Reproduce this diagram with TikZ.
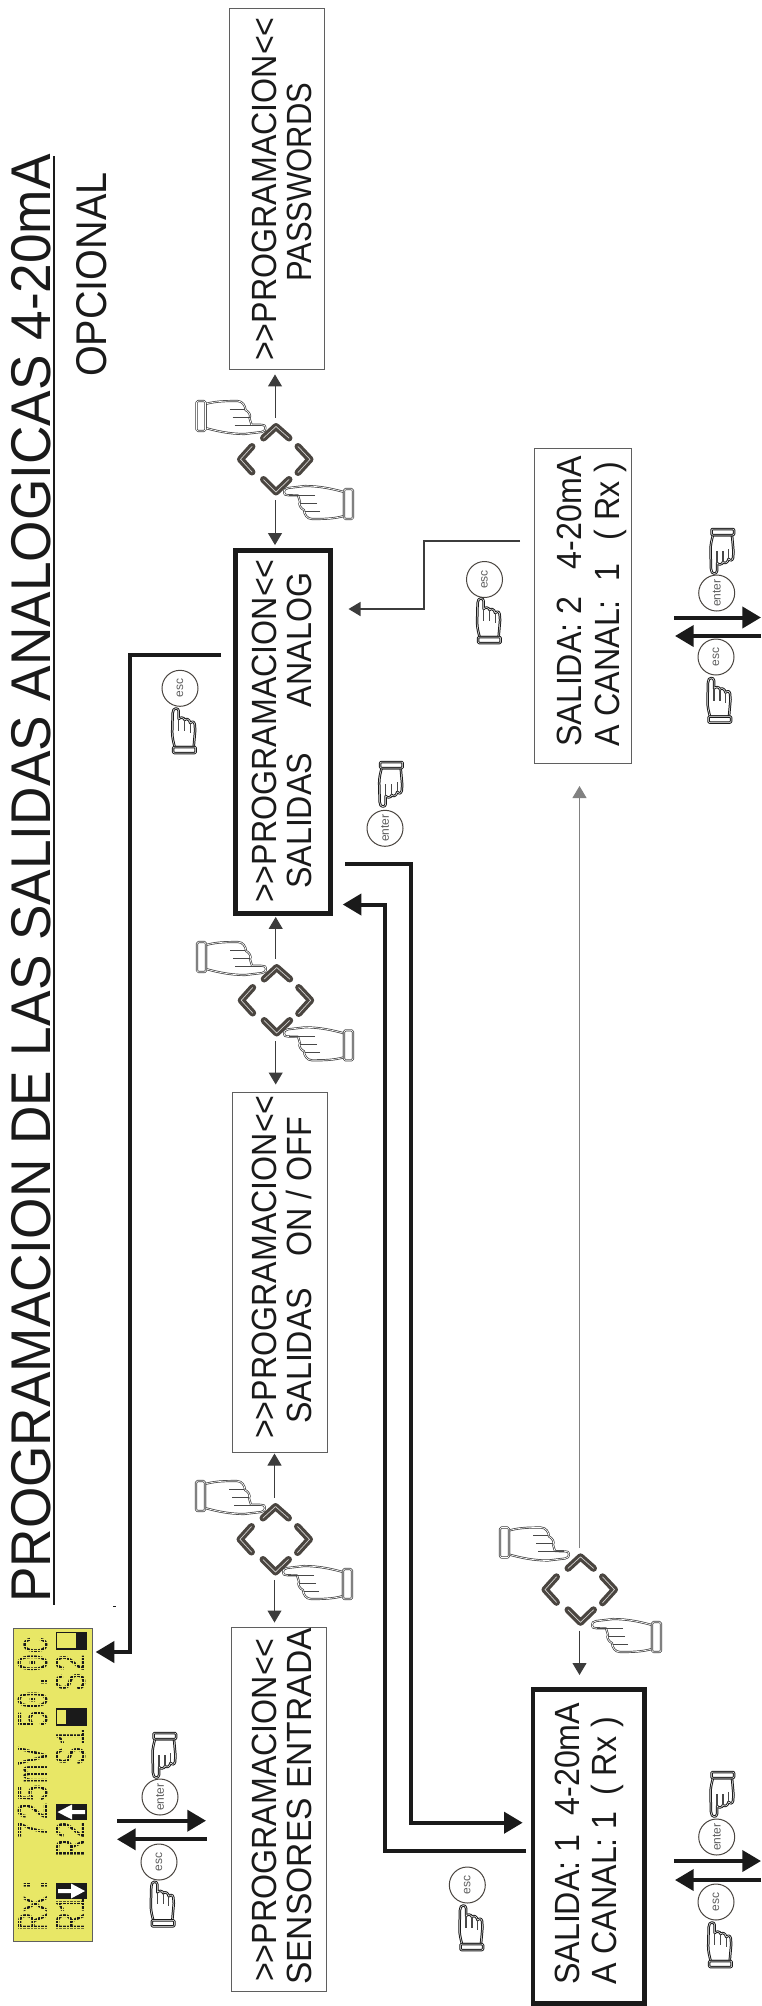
\documentclass[tikz,border=0pt]{standalone}
\usepackage{fontspec}
\usepackage{graphicx}
\setmainfont{Liberation Sans}[Ligatures=TeXOff]
\newfontfamily\lcdfont{Liberation Mono}[Ligatures=TeXOff]
\usetikzlibrary{arrows.meta}
\definecolor{ink}{HTML}{1A1A1A}
\definecolor{chev}{HTML}{4A4540}
\definecolor{lcdy}{HTML}{E8E766}
\tikzset{
  thinbox/.style={draw=ink!70,line width=1pt,fill=white,inner sep=0pt},
  thickbox/.style={draw=ink,line width=4.7pt,fill=white,inner sep=0pt},
  tline/.style={rotate=90,anchor=base west,inner sep=0pt,text=ink},
  thick arrow/.style={draw=ink,line width=4pt,-{Triangle[length=18.7pt,width=21pt]}},
  thin arrow/.style={draw=ink!85,line width=1pt,-{Triangle[length=12pt,width=14pt]}},
  keycircle/.style={circle,draw=chev,line width=1pt,fill=white,minimum size=36pt,inner sep=0pt,rotate=90,text=ink!70,font=\fontsize{12}{12}\selectfont},
  padnode/.style={minimum width=76pt,minimum height=82pt,inner sep=0pt},
  handline/.style={draw=ink!85,fill=white,line width=.7pt,double=white,double distance=.7pt,line join=round},
  handthick/.style={draw=ink,fill=white,line width=1pt,double=white,double distance=.5pt,line join=round},
  fingerline/.style={draw=ink!80,line width=.9pt},
  handup/.pic={
    \path[handthick] (0,-1.5) .. controls (-1.5,-1.5) and (-3,0) .. (-3,3) -- (-3.5,22) .. controls (-3.5,28) and (-2,33) .. (-1,37) -- (18,37) -- (19.5,20) -- (19,14) .. controls (18.5,11) and (15,11) .. (14.5,13) .. controls (14,9) and (10,8) .. (9,10) .. controls (8.5,7) and (4,7) .. (3,9) -- (3,1) .. controls (3,-1) and (1.5,-1.5) .. (0,-1.5) -- cycle;
    \draw[fingerline,line width=1.2pt] (3,9)--(3,21) (9,10)--(9,21) (14.5,13)--(14.5,23);
    \path[handthick,rounded corners=1pt] (-2.5,37) rectangle (20,43);
  },
  handright/.pic={
    \path[handline] (1,0) .. controls (1,-2.5) and (0,-3.2) .. (-3,-3.2) -- (-13,-3.4) .. controls (-15,-5) and (-13,-8) .. (-15,-10) .. controls (-13,-12) and (-16,-17) .. (-19,-18) .. controls (-19,-22) and (-22,-27) .. (-27,-27) .. controls (-38,-27) and (-48,-27) .. (-59,-24) -- (-59,0) .. controls (-48,3) and (-35,6) .. (-20,6) -- (-3,4) .. controls (0,3.5) and (1,2) .. (1,0) -- cycle;
    \draw[fingerline] (-35,-19)--(-20,-19) (-32,-11)--(-15,-11) (-30,-3)--(-4,-3);
    \path[handline,rounded corners=1.5pt] (-68,-27) rectangle (-59,3);
  },
  keypad/.pic={
    \draw[chev,line width=7pt,line cap=round,line join=round]
      (-11.5,-21)--(1,-32.5)--(14,-21)
      (-23,-12.5)--(-34.5,0.3)--(-23,13)
      (23,-12.5)--(35,0.3)--(23,13.5)
      (-11.5,20.5)--(1,33)--(14,20.5);
    \draw[white!75!chev,line width=.7pt,line cap=round,line join=round]
      (-11.5,-21)--(1,-32.5)--(14,-21)
      (-23,-12.5)--(-34.5,0.3)--(-23,13)
      (23,-12.5)--(35,0.3)--(23,13.5)
      (-11.5,20.5)--(1,33)--(14,20.5);
  }
}
\newcommand{\BT}[2][.92]{\scalebox{#1}[1]{\fontsize{35}{35}\selectfont #2}}
\newcommand{\LCD}[1]{\scalebox{.7}[1]{\lcdfont\fontsize{44}{44}\selectfont #1}}
\begin{document}
\begin{tikzpicture}[x=1pt,y=-1pt]
\useasboundingbox (0,0) rectangle (761,2006);

% title
\node[tline] (title) at (50,1603) {\scalebox{.95}[1]{\fontsize{56}{56}\selectfont PROGRAMACION DE LAS SALIDAS ANALOGICAS 4-20mA}};
\draw[ink,line width=2pt] (54,156) -- (54,1605);
\node[tline] (opc) at (106,377) {\scalebox{.92}[1]{\fontsize{43}{43}\selectfont OPCIONAL}};
\fill[ink] (113,1605.5) rectangle (116,1606.5);

% boxes
\node[thinbox,minimum width=95pt,minimum height=361.5pt] (pass) at (276.5,189.2) {};
\node[thickbox,minimum width=95pt,minimum height=363.2pt] (analog) at (282.8,732) {};
\node[thinbox,minimum width=95pt,minimum height=360pt] (onoff) at (279.5,1272) {};
\node[thinbox,minimum width=95pt,minimum height=364pt] (sens) at (278.5,1809) {};
\node[thinbox,minimum width=97pt,minimum height=315pt] (sal2) at (582.5,606) {};
\node[thickbox,minimum width=111.3pt,minimum height=314.3pt] (sal1) at (588.7,1846.5) {};

% box texts
\node[tline] (t1a) at (276,361) {\BT{>>PROGRAMACION<<}};
\node[tline] (t1b) at (311.6,282) {\BT[.885]{PASSWORDS}};
\node[tline] (t2a) at (276,903) {\BT{>>PROGRAMACION<<}};
\node[tline] (t2b) at (311.6,889) {\BT{SALIDAS\hspace{40pt} ANALOG}};
\node[tline] (t3a) at (276,1439) {\BT{>>PROGRAMACION<<}};
\node[tline] (t3b) at (311.6,1424) {\BT{SALIDAS\hspace{24pt} ON / OFF}};
\node[tline] (t4a) at (276,1982) {\BT{>>PROGRAMACION<<}};
\node[tline] (t4b) at (311.6,1985) {\BT[.96]{SENSORES ENTRADA}};
\node[tline] (t5a) at (581,747) {\BT{SALIDA: 2\hspace{20pt} 4-20mA}};
\node[tline] (t5b) at (619,747) {\BT{A CANAL:\hspace{10pt} 1\hspace{16pt} ( Rx )}};
\node[tline] (t6a) at (579,1985) {\BT{SALIDA: 1\hspace{11pt} 4-20mA}};
\node[tline] (t6b) at (616,1985) {\BT{A CANAL: 1\hspace{7pt} ( Rx )}};

% LCD
\node[draw=ink!70,line width=1pt,fill=lcdy,minimum width=78.5pt,minimum height=313pt,inner sep=0pt] (lcd) at (52.8,1784.5) {};
\node[tline] (l1) at (47,1932) {\LCD{Rx:}};
\node[tline] (l2) at (47,1839.5) {\LCD{725mV}};
\node[tline] (l3) at (47,1728.5) {\LCD{50.0c}};
\node[tline] (l4) at (85,1932) {\LCD{R1}};
\node[tline] (l5) at (85,1858) {\LCD{R2}};
\node[tline] (l6) at (85,1765.5) {\LCD{S1}};
\node[tline] (l7) at (85,1691.5) {\LCD{S2}};
% dot-matrix screen over the characters
\foreach \yy in {0,...,84}{\draw[lcdy,line width=.8pt] (15,1632+3.6*\yy) -- (90.5,1632+3.6*\yy);}
\foreach \xx in {0,...,20}{\draw[lcdy,line width=.8pt] (15.5+3.6*\xx,1630) -- (15.5+3.6*\xx,1939);}
\fill[ink] (56,1883) rectangle (87,1899);
\fill[white] (58,1889) -- (71,1889) -- (71,1883.5) -- (85,1891) -- (71,1898.5) -- (71,1893) -- (58,1893) -- cycle;
\fill[ink] (56,1804) rectangle (87,1820);
\fill[white] (85,1810) -- (72,1810) -- (72,1804.5) -- (57.5,1812) -- (72,1819.5) -- (72,1814) -- (85,1814) -- cycle;
\draw[ink,line width=1.2pt] (56.5,1709) rectangle (86,1725);
\fill[ink] (66,1709) rectangle (86,1725);
\draw[ink,line width=1.2pt] (56.5,1632.5) rectangle (86,1649);
\fill[ink] (76,1632.5) rectangle (86,1649);

% keypads
\node[padnode] (p1) at (275,459) {};
\node[padnode] (p2) at (275.7,1000) {};
\node[padnode] (p3) at (274.5,1539) {};
\node[padnode] (p4) at (579.5,1589.3) {};
\pic at (p1.center) {keypad};
\pic at (p2.center) {keypad};
\pic at (p3.center) {keypad};
\pic at (p4.center) {keypad};
\pic at (264.5,428) {handright};
\pic at (265,969) {handright};
\pic at (264,1508) {handright};
\pic at (568,1554.5) {handright};
\pic[rotate=180] at (285,492) {handright};
\pic[rotate=180] at (285,1033.3) {handright};
\pic[rotate=180] at (284,1572) {handright};
\pic[rotate=180] at (593,1625) {handright};

% thin connectors
\draw[thin arrow,shorten >=4pt] (p1.north) -- (p1.north |- pass.south);
\draw[thin arrow,shorten >=3pt] (p1.south) -- (p1.south |- analog.north);
\draw[thin arrow,shorten >=1pt] (p2.north) -- (p2.north |- analog.south);
\draw[thin arrow,shorten >=7pt] (p2.south) -- (p2.south |- onoff.north);
\draw[thin arrow,shorten >=1pt] (p3.north) -- (p3.north |- onoff.south);
\draw[thin arrow,shorten >=4pt] (p3.south) -- (p3.south |- sens.north);
\draw[thin arrow,draw=ink!55,shorten >=22pt] (p4.north) -- (p4.north |- sal2.south);
\draw[thin arrow,shorten >=12pt] (p4.south) -- (p4.south |- sal1.north);
\coordinate (s2out) at (520,541);
\coordinate (antip) at (348.5,609);
\draw[thin arrow,line width=1.5pt] (s2out) -- (424,541) -- (424,609) -- (antip);

% thick connectors
\coordinate (cs) at (221,655);
\coordinate (lcdtip) at (95.6,1652);
\draw[thick arrow] (cs) -- (129.5,655) -- (129.5,1652) -- (lcdtip);
\coordinate (bs) at (345,864.3);
\coordinate (s1tip) at (522.7,1822.7);
\draw[thick arrow] (bs) -- (410.5,864.3) -- (410.5,1822.7) -- (s1tip);
\coordinate (as) at (526,1851);
\coordinate (antip2) at (342.7,904.5);
\draw[thick arrow] (as) -- (384.5,1851) -- (384.5,904.5) -- (antip2);

% pair 1
\coordinate (a1a) at (117,1820.7); \coordinate (a1b) at (206,1820.7);
\coordinate (a1c) at (206.7,1839.3); \coordinate (a1d) at (117,1839.3);
\draw[thick arrow] (a1a) -- (a1b);
\draw[thick arrow] (a1c) -- (a1d);
\node[keycircle] (en1) at (160,1797) {enter};
\node[keycircle] (es1) at (159,1862) {esc};
\pic at (154.3,1883.3) {handup};
\pic[yscale=-1] at (156,1776) {handup};

% pair 2
\coordinate (a2a) at (674,1861); \coordinate (a2b) at (761,1861);
\coordinate (a2c) at (761,1880); \coordinate (a2d) at (675,1880);
\draw[thick arrow] (a2a) -- (a2b);
\draw[thick arrow] (a2c) -- (a2d);
\node[keycircle] (en2) at (716.7,1837) {enter};
\node[keycircle] (es2) at (716,1902) {esc};
\pic at (711.7,1924) {handup};
\pic[yscale=-1] at (714,1815) {handup};

% pair 3
\coordinate (a3a) at (674,617.5); \coordinate (a3b) at (761,617.5);
\coordinate (a3c) at (761,636); \coordinate (a3d) at (675,636);
\draw[thick arrow] (a3a) -- (a3b);
\draw[thick arrow] (a3c) -- (a3d);
\node[keycircle] (en3) at (716.7,593) {enter};
\node[keycircle] (es3) at (716,657) {esc};
\pic at (711,679.5) {handup};
\pic[yscale=-1] at (714,572) {handup};

% lone keys
\node[keycircle] (es4) at (180,688.3) {esc};
\pic at (175.7,710) {handup};
\node[keycircle] (en4) at (385,828.3) {enter};
\pic[yscale=-1] at (382.7,805) {handup};
\node[keycircle] (es5) at (484.5,579.5) {esc};
\pic at (480.6,600) {handup};
\node[keycircle] (es6) at (467.3,1885) {esc};
\pic at (463,1907) {handup};
\end{tikzpicture}
\end{document}
